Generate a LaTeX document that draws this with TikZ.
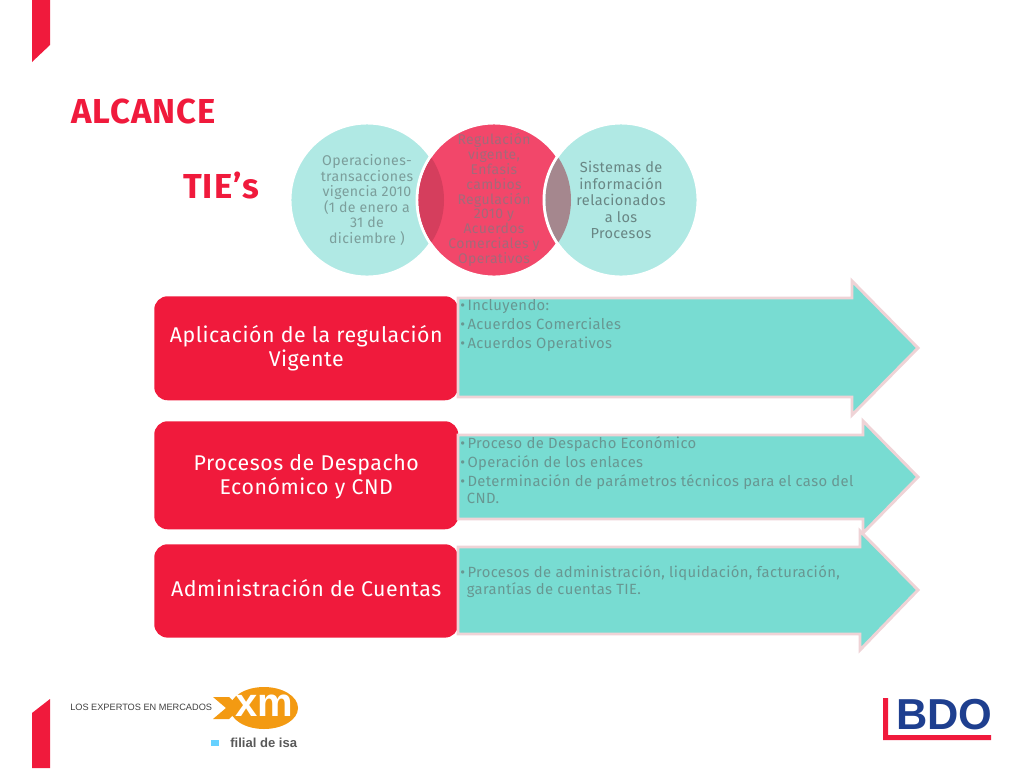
\documentclass[tikz,border=0pt]{standalone}
\usepackage{fontspec}
\setmainfont[LetterSpace=2.5]{Fira Sans}
\newfontfamily\fuerte[LetterSpace=3]{Fira Sans}
\newfontfamily\logofont{Liberation Sans}
\definecolor{rojo}{HTML}{F01A3C}
\definecolor{aguaclaro}{HTML}{B0E9E4}
\definecolor{agua}{HTML}{78DCD2}
\definecolor{rosa}{HTML}{F2476A}
\definecolor{borde}{HTML}{EFD3D6}
\definecolor{grisagua}{HTML}{7C9E9B}
\definecolor{grisrosa}{HTML}{A36A7A}
\definecolor{grisflecha}{HTML}{689792}
\definecolor{azulbdo}{HTML}{1E3F8F}
\definecolor{naranja}{HTML}{F39A12}
\newcommand{\tam}[1]{\fontsize{#1}{#1}\selectfont\lineskiplimit=-20pt}
\tikzset{
  bubble/.style={shape=circle, minimum size=115.5pt, inner sep=0pt, draw=white, line width=2.2pt},
  bubtxt/.style={align=center, inner sep=0pt},
  redbox/.style={fill=rojo, rounded corners=10pt, minimum width=228pt, text=white, align=center, anchor=north west, inner sep=0pt, text depth=5pt},
  flecha/.style={fill=agua, draw=borde, line width=2.2pt, line join=miter},
  itemtxt/.style={text=grisflecha, align=left, anchor=north west, inner sep=0pt, font=\tam{11.1}},
}
\begin{document}
\begin{tikzpicture}[x=0.75pt, y=-0.75pt]
\useasboundingbox (0,0) rectangle (1024,768);
% pestanas
\fill[rojo] (32,0) -- (50,0) -- (50,45) -- (32,62) -- cycle;
\fill[rojo] (32,768) -- (50,768) -- (50,699) -- (32,713) -- cycle;
% titulos
\node[text=rojo, anchor=west, inner sep=0pt, font=\fuerte\bfseries\tam{26}] (alcance) at (71,111) {ALCANCE};
\node[text=rojo, anchor=west, inner sep=0pt, font=\fuerte\bfseries\tam{26}] (ties) at (183,186) {TIE’s};
% circulos
\node[bubble, fill=aguaclaro] (oper) at (367,200) {};
\node[bubble, fill=rosa] (regul) at (494,200) {};
\begin{scope}
\clip (494,200) circle (75.5);
\fill[rosa!88!black] (367,200) circle (77);
\end{scope}
\node[bubble, fill=aguaclaro] (sist) at (621,200) {};
\begin{scope}
\clip (621,200) circle (75.5);
\fill[fill=rosa!30!gray!80!aguaclaro] (494,200) circle (77);
\end{scope}
\node[bubtxt, text=grisagua, font=\tam{10.6}] (opertxt) at (oper.center) {Operaciones-\\[1.1pt]transacciones\\[1.1pt]vigencia 2010\\[1.1pt](1 de enero a\\[1.1pt]31 de\\[1.1pt]diciembre )};
\node[bubtxt, text=grisrosa, font=\tam{10.5}] (regultxt) at (regul.center) {Regulación\\[.6pt]vigente,\\[.6pt]Enfasis\\[.6pt]cambios\\[.6pt]Regulación\\[.6pt]2010 y\\[.6pt]Acuerdos\\[.6pt]Comerciales y\\[.6pt]Operativos};
\node[bubtxt, text=grisagua!85!black, font=\tam{10.9}] (sisttxt) at (sist.center) {Sistemas de\\[1.5pt]información\\[1.5pt]relacionados\\[1.5pt]a los\\[1.5pt]Procesos};
% cajas rojas
\node[redbox, minimum height=78pt, text depth=3.5pt, font=\tam{16}] (aplic) at (154,296) {Aplicación de la regulación\\[2pt]Vigente};
\node[redbox, minimum height=81pt, text depth=1pt, font=\tam{16}] (proc) at (154,421) {Procesos de Despacho\\[2pt]Económico y CND};
\node[redbox, minimum height=70pt, font=\tam{16}] (admin) at (154,544) {Administración de Cuentas};
% flechas
\draw[flecha] (458,298) -- (852,298) -- (852,281) -- (918,348) -- (852,415) -- (852,397) -- (458,397) -- cycle;
\draw[flecha] (458,435) -- (863,435) -- (863,421) -- (918,477) -- (863,533) -- (863,519) -- (458,519) -- cycle;
\draw[flecha] (458,547) -- (860,547) -- (860,531) -- (918,590) -- (860,650) -- (860,634) -- (458,634) -- cycle;
% textos de las flechas
\node[itemtxt] (lista1) at (460,299) {\textbullet\,Incluyendo:\\[3.15pt]\textbullet\,Acuerdos Comerciales\\[3.15pt]\textbullet\,Acuerdos Operativos};
\node[itemtxt] (lista2) at (460,436) {\textbullet\,Proceso de Despacho Económico\\[3.15pt]\textbullet\,Operación de los enlaces\\[3.15pt]\textbullet\,Determinación de parámetros técnicos para el caso del\\[1.65pt]\hspace{5pt}CND.};
\node[itemtxt] (lista3) at (460,565) {\textbullet\,Procesos de administración, liquidación, facturación,\\[1.65pt]\hspace{5pt}garantías de cuentas TIE.};
% logos
\node[anchor=west, inner sep=0pt, text=black!75, font=\logofont\tam{6.9}] (expertos) at (70,707) {LOS EXPERTOS EN MERCADOS};
\fill[naranja] (264,708) ellipse (34 and 21);
\fill[naranja] (213,697) -- (229,697) -- (241,708) -- (229,719) -- (213,719) -- (226,708) -- cycle;
\node[text=white, inner sep=0pt, font=\logofont\bfseries\tam{30}] (xm) at (264,706) {xm};
\fill[blue!30!cyan!60!white] (211,740) rectangle (219,746);
\node[anchor=west, inner sep=0pt, text=black!65, font=\logofont\bfseries\tam{9.8}] (filial) at (230,743) {filial de isa};
\fill[rojo] (883,698) -- (888,698) -- (888,735) -- (991,735) -- (991,740) -- (883,740) -- cycle;
\node[anchor=west, inner sep=0pt, text=azulbdo, font=\logofont\bfseries\tam{32.5}] (bdo) at (896,715) {BDO};
\end{tikzpicture}
\end{document}
